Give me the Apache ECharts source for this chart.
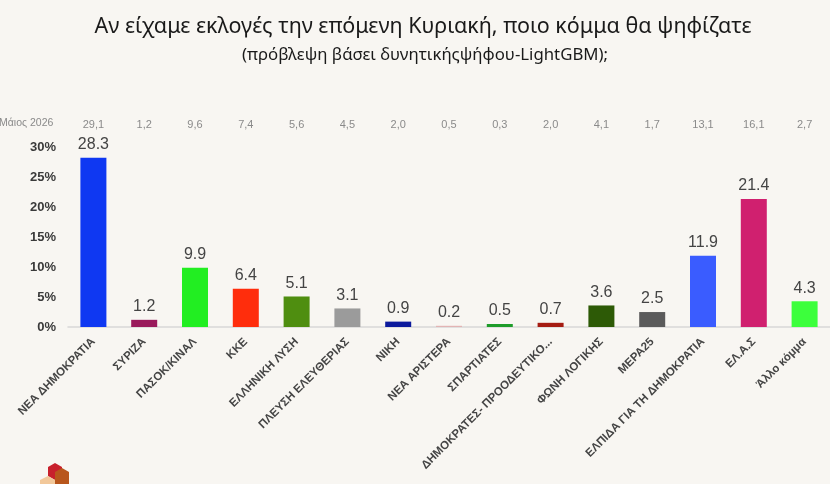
<!DOCTYPE html>
<html><head><meta charset="utf-8">
<script src="https://cdn.jsdelivr.net/npm/echarts@6/dist/echarts.min.js"></script>
<style>html,body{margin:0;padding:0;background:#f8f6f2;}#c{width:830px;height:484px;}</style>
</head><body><div id="c"></div>
<script>
const categories = ['ΝΕΑ ΔΗΜΟΚΡΑΤΙΑ','ΣΥΡΙΖΑ','ΠΑΣΟΚ/ΚΙΝΑΛ','ΚΚΕ','ΕΛΛΗΝΙΚΗ ΛΥΣΗ','ΠΛΕΥΣΗ ΕΛΕΥΘΕΡΙΑΣ','ΝΙΚΗ','ΝΕΑ ΑΡΙΣΤΕΡΑ','ΣΠΑΡΤΙΑΤΕΣ','ΔΗΜΟΚΡΑΤΕΣ- ΠΡΟΟΔΕΥΤΙΚΟ...','ΦΩΝΗ ΛΟΓΙΚΗΣ','ΜΕΡΑ25','ΕΛΠΙΔΑ ΓΙΑ ΤΗ ΔΗΜΟΚΡΑΤΙΑ','ΕΛ.Α.Σ','Άλλο κόμμα'];
const forecastValues = [28.3,1.2,9.9,6.4,5.1,3.1,0.9,0.2,0.5,0.7,3.6,2.5,11.9,21.4,4.3];
const may2026Labels = ['29,1','1,2','9,6','7,4','5,6','4,5','2,0','0,5','0,3','2,0','4,1','1,7','13,1','16,1','2,7'];
const barColors = ['#0f38f2','#9a1a5c','#22ee22','#ff2d0c','#4f8e10','#9b9b9b','#0c1a9c','#e2b4b4','#1e9c2a','#a51c12','#2d5a06','#5b5b5b','#3a5cff','#d0206f','#3cff3c'];
const yTicks = [0,5,10,15,20,25,30];
const topRowName = 'Μάιος 2026';
const titleText = 'Αν είχαμε εκλογές την επόμενη Κυριακή, ποιο κόμμα θα ψηφίζατε';
const subtitleText = '(πρόβλεψη βάσει δυνητικήςψήφου-LightGBM);';

const chart = echarts.init(document.getElementById('c'), null, {renderer:'canvas'});
chart.setOption({
  backgroundColor:'#f8f6f2',
  animation:false,
  graphic:[
    {type:'text', x:423, y:16, style:{text:titleText, align:'center', verticalAlign:'top', font:'21.5px "Noto Sans"', fill:'#1a1a1a'}},
    {type:'text', x:425, y:47, style:{text:subtitleText, align:'center', verticalAlign:'top', font:'16.8px "Noto Sans"', fill:'#1a1a1a'}},
    {type:'text', left:-1, top:118, style:{text:topRowName, font:'10.5px "Liberation Sans"', fill:'#8a8a8a'}},
    {type:'polygon', shape:{points:[[48,467],[55,463],[62,467],[62,476],[55,480],[48,476]]}, style:{fill:'#c8202c'}},
    {type:'polygon', shape:{points:[[55,472],[62,468],[69,472],[69,484],[55,484]]}, style:{fill:'#b8561c'}},
    {type:'polygon', shape:{points:[[40,480],[48,476],[55,480],[55,484],[40,484]]}, style:{fill:'#f2c89a'}}
  ],
  grid:{left:68, right:-12, top:147.5, bottom:157},
  xAxis:[{
    type:'category', data:categories, position:'bottom',
    axisLine:{show:true, lineStyle:{color:'#d8d8d8', width:1.5}},
    axisTick:{show:false},
    axisLabel:{rotate:45, interval:0, margin:13, fontFamily:'Liberation Sans', fontSize:11.5, fontWeight:'bold', color:'#454545'}
  },{
    type:'category', data:may2026Labels, position:'top',
    axisLine:{show:false}, axisTick:{show:false},
    axisLabel:{interval:0, margin:17, fontFamily:'Liberation Sans', fontSize:11, color:'#8a8a8a'}
  }],
  yAxis:{
    type:'value', min:0, max:30, interval:5,
    splitLine:{show:false}, axisLine:{show:false}, axisTick:{show:false},
    axisLabel:{margin:12, formatter:v=>v+'%', fontFamily:'Liberation Sans', fontSize:13, fontWeight:'bold', color:'#3a3a3a'}
  },
  series:[{
    type:'bar', xAxisIndex:0, barWidth:26,
    data:forecastValues.map((v,i)=>({value:v, itemStyle:{color:barColors[i]}})),
    label:{show:true, position:'top', distance:5, formatter:p=>p.value.toFixed(1), fontFamily:'Liberation Sans', fontSize:16, color:'#444'}
  }]
});
</script></body></html>
